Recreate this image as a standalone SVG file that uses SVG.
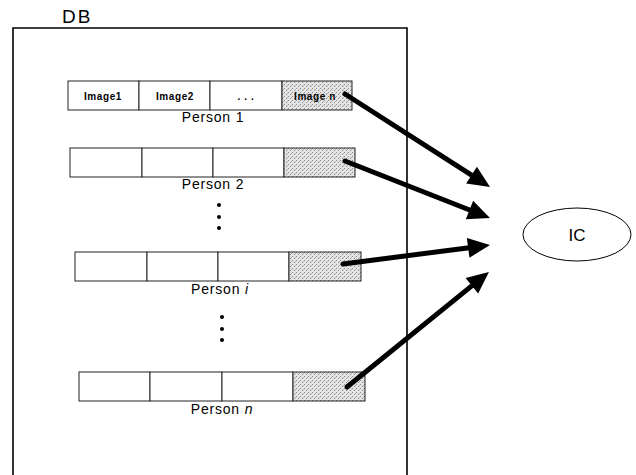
<svg xmlns="http://www.w3.org/2000/svg" width="636" height="475" viewBox="0 0 636 475">
<style>
  text { font-family: "Liberation Sans", Arial, sans-serif; fill: #000; }
  .cell { fill: #fff; stroke: #222; stroke-width: 1; }
  .shade { fill: url(#stipple); stroke: #222; stroke-width: 1; }
  .img { font-size: 10px; font-weight: bold; text-anchor: middle; letter-spacing: 0.6px; }
  .person { font-size: 14px; text-anchor: middle; letter-spacing: 0.8px; }
  .dot { fill: #000; }
  .arrow { stroke: #000; stroke-width: 5; stroke-linecap: round; fill: none; marker-end: url(#head); }
</style>
<defs>
  <pattern id="stipple" width="4" height="4" patternUnits="userSpaceOnUse">
    <rect width="4" height="4" fill="#e4e4e4"/>
    <rect x="0" y="0" width="1" height="1" fill="#8a8a8a"/>
    <rect x="2" y="2" width="1" height="1" fill="#8a8a8a"/>
    <rect x="3" y="1" width="1" height="1" fill="#b0b0b0"/>
  </pattern>
  <marker id="head" markerUnits="userSpaceOnUse" markerWidth="22" markerHeight="20" refX="7" refY="10" orient="auto" overflow="visible">
    <path d="M0,0 L22,10 L0,20 Z" fill="#000"/>
  </marker>
</defs>

<g id="db">
  <path d="M13,475 V28 H407 V475" fill="none" stroke="#000" stroke-width="1.6"/>
  <text x="62" y="23" font-size="19" letter-spacing="2">DB</text>
</g>

<g id="person1">
  <rect class="cell" x="68" y="81" width="71" height="29"/>
  <rect class="cell" x="139" y="81" width="71" height="29"/>
  <rect class="cell" x="210" y="81" width="72" height="29"/>
  <rect class="shade" x="282" y="81" width="70" height="29"/>
  <text class="img" x="103" y="100">Image1</text>
  <text class="img" x="175" y="100">Image2</text>
  <text class="img" x="246" y="100">. . .</text>
  <text class="img" x="315" y="100">Image n</text>
  <text class="person" x="213" y="122">Person 1</text>
</g>

<g id="person2">
  <rect class="cell" x="70" y="148" width="72" height="29"/>
  <rect class="cell" x="142" y="148" width="71" height="29"/>
  <rect class="cell" x="213" y="148" width="71" height="29"/>
  <rect class="shade" x="284" y="148" width="71" height="29"/>
  <text class="person" x="213" y="189">Person 2</text>
</g>

<g id="dots1">
  <circle class="dot" cx="219" cy="205" r="2"/>
  <circle class="dot" cx="219" cy="217" r="2"/>
  <circle class="dot" cx="219" cy="228" r="2"/>
</g>

<g id="personi">
  <rect class="cell" x="75" y="252" width="72" height="29"/>
  <rect class="cell" x="147" y="252" width="71" height="29"/>
  <rect class="cell" x="218" y="252" width="71" height="29"/>
  <rect class="shade" x="289" y="252" width="72" height="29"/>
  <text class="person" x="220" y="294">Person <tspan font-style="italic">i</tspan></text>
</g>

<g id="dots2">
  <circle class="dot" cx="222" cy="317" r="2"/>
  <circle class="dot" cx="222" cy="329" r="2"/>
  <circle class="dot" cx="222" cy="340" r="2"/>
</g>

<g id="personn">
  <rect class="cell" x="79" y="372" width="71" height="29"/>
  <rect class="cell" x="150" y="372" width="72" height="29"/>
  <rect class="cell" x="222" y="372" width="71" height="29"/>
  <rect class="shade" x="293" y="372" width="72" height="29"/>
  <text class="person" x="222" y="414">Person <tspan font-style="italic">n</tspan></text>
</g>

<g id="ic">
  <ellipse cx="577" cy="234.5" rx="54" ry="26.5" fill="#fff" stroke="#000" stroke-width="1"/>
  <text x="577" y="241" font-size="17" text-anchor="middle">IC</text>
</g>

<g id="connectors">
  <line class="arrow" x1="345" y1="94" x2="477.4" y2="178.9"/>
  <line class="arrow" x1="345" y1="161" x2="476" y2="212.5"/>
  <line class="arrow" x1="343" y1="264" x2="475.1" y2="246.9"/>
  <line class="arrow" x1="347" y1="387" x2="477.3" y2="281.4"/>
</g>
</svg>
